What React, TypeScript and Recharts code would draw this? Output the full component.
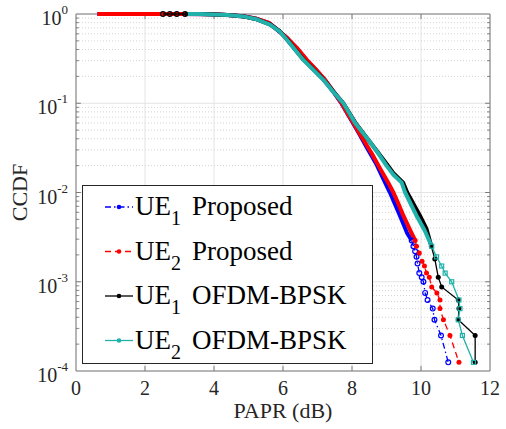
import * as React from 'react';
import { LineChart, Line, XAxis, YAxis, CartesianGrid, ReferenceLine } from 'recharts';

const serif = '"Liberation Serif", "Times New Roman", serif';
const axisColor = '#7a7a7a';

// UE1 Proposed (blue)
const ue1PropBodyPapr = [0.62, 3.0, 4.0, 4.5, 4.85, 5.2, 5.6, 6.1, 6.4, 6.69, 6.95, 7.22, 7.45, 7.7, 7.85, 8.04, 8.2, 8.43, 8.7, 8.96, 9.1, 9.39, 9.6, 9.73];
const ue1PropBodyCcdf = [1, 0.9995, 0.991, 0.966, 0.944, 0.89, 0.79, 0.545, 0.414, 0.303, 0.238, 0.181, 0.136, 0.099, 0.079, 0.059, 0.046, 0.032, 0.021, 0.0129, 0.01, 0.0055, 0.0035, 0.0029];
const ue1PropTailPapr = [9.73, 9.78, 9.83, 9.87, 9.9, 9.95, 10.02, 10.07, 10.12, 10.19, 10.34, 10.39, 10.58, 10.79];
const ue1PropTailCcdf = [0.0029, 0.0025, 0.0022, 0.0019, 0.0016, 0.00125, 0.001125, 0.001, 0.00075, 0.000625, 0.0005, 0.000375, 0.00025, 0.000125];

// UE2 Proposed (red)
const ue2PropBodyPapr = [0.62, 3.0, 4.0, 4.5, 4.85, 5.2, 5.6, 6.1, 6.4, 6.69, 6.95, 7.22, 7.45, 7.7, 7.85, 8.04, 8.2, 8.33, 8.57, 8.8, 9.05, 9.2, 9.35, 9.49, 9.7, 9.83];
const ue2PropBodyCcdf = [1, 0.9995, 0.991, 0.966, 0.944, 0.891, 0.794, 0.55, 0.417, 0.306, 0.24, 0.183, 0.138, 0.1, 0.079, 0.06, 0.047, 0.039, 0.0275, 0.019, 0.0129, 0.01, 0.0074, 0.0055, 0.0037, 0.0029];
const ue2PropTailPapr = [9.83, 9.87, 9.95, 10.03, 10.1, 10.16, 10.24, 10.31, 10.46, 10.55, 10.55, 10.65, 10.84, 11.1];
const ue2PropTailCcdf = [0.0029, 0.0025, 0.0021, 0.0017, 0.0015, 0.00125, 0.001125, 0.000875, 0.00075, 0.000625, 0.0005, 0.000375, 0.00025, 0.000125];

// UE1 OFDM-BPSK (black)
const ue1OfdmHeadPapr = [2.52, 2.72, 2.92, 3.16];
const ue1OfdmHeadCcdf = [1, 1, 0.9999, 0.9998];
const ue1OfdmBodyPapr = [3.16, 3.6, 4.0, 4.4, 4.85, 5.2, 5.62, 5.9, 6.15, 6.59, 7.17, 7.45, 7.75, 8.09, 8.47, 8.7, 9.0, 9.2, 9.48, 9.6, 9.97, 10.16, 10.3];
const ue1OfdmBodyCcdf = [0.9998, 0.998, 0.99, 0.972, 0.94, 0.88, 0.765, 0.645, 0.5, 0.31, 0.185, 0.137, 0.1, 0.061, 0.039, 0.03, 0.021, 0.0165, 0.0129, 0.01, 0.0055, 0.0039, 0.0025];
const ue1OfdmTailPapr = [10.3, 10.4, 10.5, 10.6, 11.08, 11.1, 11.08, 11.57, 11.57];
const ue1OfdmTailCcdf = [0.0025, 0.0018, 0.001125, 0.000875, 0.000625, 0.0005, 0.000375, 0.00025, 0.000125];

// UE2 OFDM-BPSK (cyan)
const ue2OfdmBodyPapr = [3.21, 3.6, 4.0, 4.4, 4.85, 5.2, 5.62, 5.9, 6.15, 6.59, 7.17, 7.45, 7.75, 8.09, 8.47, 8.76, 9.0, 9.2, 9.44, 9.54, 9.87, 10.1, 10.31];
const ue2OfdmBodyCcdf = [1, 0.998, 0.99, 0.972, 0.94, 0.88, 0.76, 0.64, 0.495, 0.306, 0.183, 0.135, 0.1, 0.06, 0.039, 0.0275, 0.02, 0.0158, 0.0129, 0.01, 0.0055, 0.0038, 0.0025];
const ue2OfdmTailPapr = [10.31, 10.45, 10.6, 10.7, 10.89, 11.1, 11.13, 11.08, 11.2, 11.52];
const ue2OfdmTailCcdf = [0.0025, 0.0019, 0.0015, 0.00125, 0.001, 0.000625, 0.0005, 0.000375, 0.00025, 0.000125];

const xTicks = [0, 2, 4, 6, 8, 10, 12];
const yTicks = [1e-4, 1e-3, 1e-2, 1e-1, 1];
const minorMantissas = [2, 3, 4, 5, 6, 7, 8, 9];

const zip = (xs: number[], ys: number[]) => xs.map((x, i) => ({ x, y: ys[i] }));

const series = [
    { ue: '1', name: 'Proposed', color: '#0000ff', dash: '6 3 1.5 3', marker: 'open', body: zip(ue1PropBodyPapr, ue1PropBodyCcdf), tail: zip(ue1PropTailPapr, ue1PropTailCcdf) },
    { ue: '2', name: 'Proposed', color: '#ff0000', dash: '6 4', marker: 'filled', body: zip(ue2PropBodyPapr, ue2PropBodyCcdf), tail: zip(ue2PropTailPapr, ue2PropTailCcdf) },
    { ue: '1', name: 'OFDM-BPSK', color: '#000000', dash: undefined, marker: 'filled', body: zip(ue1OfdmBodyPapr, ue1OfdmBodyCcdf), tail: zip(ue1OfdmTailPapr, ue1OfdmTailCcdf) },
    { ue: '2', name: 'OFDM-BPSK', color: '#20b2aa', dash: undefined, marker: 'square', body: zip(ue2OfdmBodyPapr, ue2OfdmBodyCcdf), tail: zip(ue2OfdmTailPapr, ue2OfdmTailCcdf) },
];
const blackHead = zip(ue1OfdmHeadPapr, ue1OfdmHeadCcdf);

const makeDot = (kind: string, color: string) => (p: any) => {
    const { cx, cy, index } = p;
    const key = `d-${index}`;
    if (cx == null || cy == null) return <g key={key} />;
    if (kind === 'square') {
        return <rect key={key} x={cx - 2} y={cy - 2} width={4} height={4} fill="none" stroke={color} strokeWidth={1.2} />;
    }
    if (kind === 'open') {
        return <circle key={key} cx={cx} cy={cy} r={2.4} fill="none" stroke={color} strokeWidth={1.2} />;
    }
    return <circle key={key} cx={cx} cy={cy} r={2.5} fill={color} />;
};

const LogTick = (props: any) => {
    const { x, y, payload } = props;
    const exp = Math.round(Math.log10(payload.value));
    return (
        <text x={x} y={y} textAnchor="end" fontFamily={serif} fill="#262626">
            <tspan fontSize={20} dy={11}>10</tspan>
            <tspan fontSize={13} dy={-11}>{exp}</tspan>
        </text>
    );
};

const YTitle = (props: any) => {
    const vb = props.viewBox || { x: 0, y: 0, width: 0, height: 0 };
    const cy = vb.y + vb.height / 2;
    return (
        <text transform={`translate(${vb.x + 27}, ${cy}) rotate(-90)`} textAnchor="middle"
            fontFamily={serif} fontSize={22} fill="#262626">CCDF</text>
    );
};

// inward tick marks (box style), lengths given in data units
const xTickLen = 0.14;
const xTickLenMinor = 0.08;
const yTickFactor = 1.14;

const Legend = () => (
    <svg width={291} height={179} style={{ position: 'absolute', left: 82, top: 185 }}>
        <rect x={0.5} y={0.5} width={290} height={178} fill="#fff" stroke="#262626" strokeWidth={1} />
        {series.map((s, i) => {
            const cy = 22 + i * 44.5;
            return (
                <g key={i}>
                    <line x1={23} x2={51} y1={cy} y2={cy} stroke={s.color} strokeWidth={1.3} strokeDasharray={s.dash} />
                    <circle cx={37} cy={cy} r={2.3} fill={s.color} />
                    <text x={53} y={cy + 8} fontFamily={serif} fontSize={27} fill="#000">
                        UE
                        <tspan fontSize={20} dy={10}>{s.ue}</tspan>
                        <tspan dy={-10} dx={11}>{s.name}</tspan>
                    </text>
                </g>
            );
        })}
    </svg>
);

export default function App() {
    const minorY: number[] = [];
    [1e-4, 1e-3, 1e-2, 1e-1].forEach((d) => minorMantissas.forEach((m) => minorY.push(m * d)));

    return (
        <div style={{ position: 'absolute', left: 0, top: 0, width: 506, height: 429, background: '#fff' }}>
            <LineChart width={506} height={429} margin={{ top: 14, right: 16, bottom: 0, left: 0 }}>
                <CartesianGrid stroke="#e4e4e4" strokeWidth={1} />
                {minorY.map((v) => (
                    <ReferenceLine key={`mg-${v}`} y={v} stroke="#d4d4d4" strokeDasharray="1 2" />
                ))}
                <XAxis dataKey="x" type="number" domain={[0, 12]} ticks={xTicks} interval={0}
                    height={58} stroke={axisColor} tickLine={false} tickSize={0} tickMargin={10}
                    tick={{ fontFamily: serif, fontSize: 20, fill: '#262626' }}
                    label={{ value: 'PAPR (dB)', position: 'insideBottom', offset: 11, fontFamily: serif, fontSize: 22, fill: '#262626' }} />
                <YAxis type="number" scale="log" domain={[1e-4, 1]} ticks={yTicks} interval={0}
                    width={76} stroke={axisColor} tickLine={false} tickSize={0} tickMargin={8}
                    tick={<LogTick />} label={<YTitle />} />
                <ReferenceLine y={1} stroke={axisColor} />
                <ReferenceLine x={12} stroke={axisColor} />
                {xTicks.slice(1, -1).map((t) => (
                    <ReferenceLine key={`xb-${t}`} segment={[{ x: t, y: 1e-4 }, { x: t, y: 1e-4 * yTickFactor }]} stroke={axisColor} />
                ))}
                {xTicks.slice(1, -1).map((t) => (
                    <ReferenceLine key={`xt-${t}`} segment={[{ x: t, y: 1 }, { x: t, y: 1 / yTickFactor }]} stroke={axisColor} />
                ))}
                {yTicks.slice(1, -1).map((t) => (
                    <ReferenceLine key={`yl-${t}`} segment={[{ x: 0, y: t }, { x: xTickLen, y: t }]} stroke={axisColor} />
                ))}
                {yTicks.slice(1, -1).map((t) => (
                    <ReferenceLine key={`yr-${t}`} segment={[{ x: 12, y: t }, { x: 12 - xTickLen, y: t }]} stroke={axisColor} />
                ))}
                {minorY.map((v) => (
                    <ReferenceLine key={`ml-${v}`} segment={[{ x: 0, y: v }, { x: xTickLenMinor, y: v }]} stroke={axisColor} />
                ))}
                {minorY.map((v) => (
                    <ReferenceLine key={`mr-${v}`} segment={[{ x: 12, y: v }, { x: 12 - xTickLenMinor, y: v }]} stroke={axisColor} />
                ))}
                {series.map((s, i) => (
                    <Line key={`body-${i}`} data={s.body} dataKey="y" type="linear" stroke={s.color}
                        strokeWidth={4} dot={false} isAnimationActive={false} strokeLinejoin="round" />
                ))}
                <Line data={blackHead} dataKey="y" type="linear" stroke="#000000" strokeWidth={1.5}
                    dot={makeDot('open', '#000000')} isAnimationActive={false} />
                {series.map((s, i) => (
                    <Line key={`tail-${i}`} data={s.tail} dataKey="y" type="linear" stroke={s.color}
                        strokeWidth={1.3} strokeDasharray={s.dash} dot={makeDot(s.marker, s.color)}
                        isAnimationActive={false} />
                ))}
            </LineChart>
            <Legend />
        </div>
    );
}
